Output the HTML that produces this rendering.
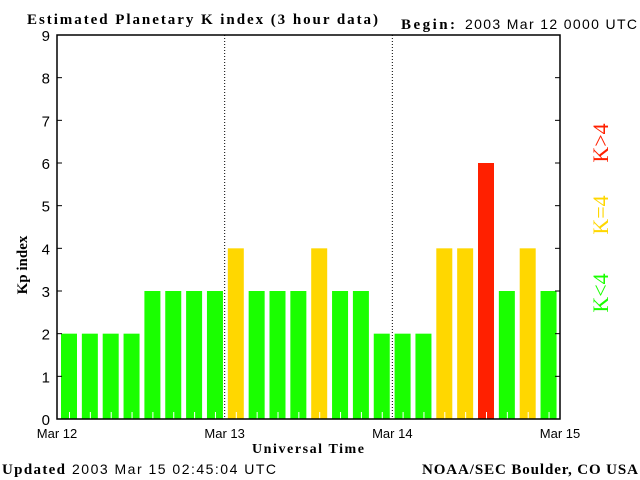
<!DOCTYPE html>
<html><head><meta charset="utf-8"><style>
body{margin:0;background:#fff;}
svg{display:block;font-family:"Liberation Sans",sans-serif;}
.s{font-family:"Liberation Serif",serif;font-weight:bold;}
</style></head><body>
<svg id="c" width="640" height="480">
<text class="s" x="27" y="24" font-size="15" textLength="351" lengthAdjust="spacing">Estimated Planetary K index (3 hour data)</text>
<text class="s" x="401" y="29" font-size="15" textLength="54">Begin:</text>
<text x="465" y="29" font-size="14" textLength="172">2003 Mar 12 0000 UTC</text>
<text class="s" x="27" y="265" font-size="15" transform="rotate(-90 27 265)" text-anchor="middle">Kp index</text>
<text class="s" x="308" y="453" font-size="14" text-anchor="middle" textLength="112">Universal Time</text>
<text class="s" x="2" y="474" font-size="15" textLength="63">Updated</text>
<text x="72" y="474" font-size="14" textLength="204">2003 Mar 15 02:45:04 UTC</text>
<text class="s" x="422" y="474" font-size="15" textLength="216">NOAA/SEC Boulder, CO USA</text>
<text x="608" y="293" font-family="Liberation Serif" font-size="22" fill="#1aff00" transform="rotate(-90 608 293)" text-anchor="middle">K&lt;4</text>
<text x="608" y="215" font-family="Liberation Serif" font-size="22" fill="#ffd700" transform="rotate(-90 608 215)" text-anchor="middle">K=4</text>
<text x="608" y="143" font-family="Liberation Serif" font-size="22" fill="#ff2000" transform="rotate(-90 608 143)" text-anchor="middle">K&gt;4</text>
<g id="bars"></g>
<g id="axes"></g>
</svg>
<script>
const categories=["00","03","06","09","12","15","18","21","00","03","06","09","12","15","18","21","00","03","06","09","12","15","18","21"];
const kpValues=[2,2,2,2,3,3,3,3,4,3,3,3,4,3,3,2,2,2,4,4,6,3,4,3];
const yTicks=[0,1,2,3,4,5,6,7,8,9];
const dayLabels=["Mar 12","Mar 13","Mar 14","Mar 15"];
const NS="http://www.w3.org/2000/svg";
const L=57,R=560,T=35,B=419;
const y=v=>B-v*(B-T)/9;
const slot=20.85;
const xb=i=>61+i*slot;
const xd=d=>L+d*(R-L)/3;
function mk(t,a,p){const e=document.createElementNS(NS,t);for(const k in a)e.setAttribute(k,a[k]);p.appendChild(e);return e;}
const bars=document.getElementById('bars'),ax=document.getElementById('axes');
kpValues.forEach((v,i)=>{
 const col=v<4?'#1aff00':(v==4?'#ffd700':'#ff2000');
 const r=mk('rect',{x:xb(i),y:y(v),width:16,height:B-y(v),fill:col},bars);
 
 
 mk('line',{x1:xb(i)+8.5,x2:xb(i)+8.5,y1:B-7,y2:B,stroke:'#fff'},bars);
});
mk('rect',{x:L,y:T,width:R-L,height:B-T,fill:'none',stroke:'#000','stroke-width':1.5},ax);
[1,2].forEach(d=>{const l=mk('line',{x1:xd(d),x2:xd(d),y1:T,y2:B,stroke:'#000','stroke-dasharray':'1,2'},ax);
 
 });
yTicks.forEach(v=>{
 mk('line',{x1:L,x2:L+5,y1:y(v),y2:y(v),stroke:'#000'},ax);
 mk('line',{x1:R-5,x2:R,y1:y(v),y2:y(v),stroke:'#000'},ax);
 const t=mk('text',{x:50,y:y(v)+6,'font-size':15,'text-anchor':'end'},ax);t.textContent=v;
 
 
});
dayLabels.forEach((s,d)=>{
 const t=mk('text',{x:xd(d),y:438,'font-size':13,'text-anchor':'middle'},ax);t.textContent=s;
 
 
});
</script>
</body></html>
